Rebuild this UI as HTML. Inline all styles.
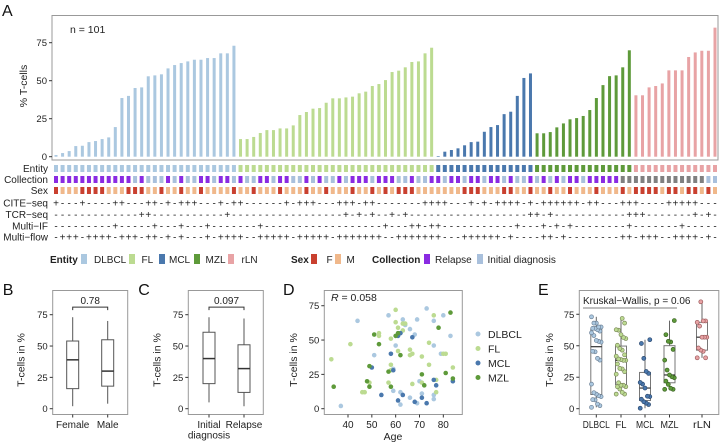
<!DOCTYPE html>
<html><head><meta charset="utf-8"><style>
body{margin:0;background:#fff}
svg{display:block;font-family:"Liberation Sans",Arial,sans-serif}
</style></head><body>
<svg id="fig" width="720" height="443" viewBox="0 0 720 443"></svg>
<script>
// ---------- DATA ----------
const groups = ["DLBCL","FL","MCL","MZL","rLN"];
const dlbclVals = [1.1,2.4,3.7,7,7.2,9.6,10.3,11.6,12.7,19.5,38.6,40,45.2,45.6,52.9,53.5,54.2,58.1,60.3,61.6,62.7,63.8,63.8,64.9,64.9,68,68,73];
const flVals = [11.6,11.6,13,15.6,17.5,17.5,18.6,18.6,20.6,27.4,29.4,31.6,32,35.5,38.4,38.4,39,39.5,41.7,42.8,46.5,47.8,50.4,55.7,56.6,58.8,62.3,62.7,68,71.7];
const mclVals = [0.4,3.3,4.4,5.5,7.5,9.6,9.9,16.4,19.5,20.8,28,29.6,40,51.8,54.8];
const mzlVals = [15.4,15.4,16.2,19.3,21.9,24.6,25.4,26.8,30.7,38.6,47.1,53,53.5,58.8,70];
const rlnVals = [40.4,40.4,45.6,46.5,48.2,56.8,56.8,56.8,65.6,68.6,69.7,69.7,84.9];
const yTicks = [0,25,50,75];
const collectionStr = "PPPPPPPPPPPPIPIIIPIPIIPPIPPIPIIPPIPPIIPIPIIPIPPPIPPPIIPIIPPIPPIPPIPPIPIIPIPIPIPPIPPPPPGGGGGGGGGGGGG";
const sexStr = "FMMMFFFFMMMFFFMMFMMFMMFMMMMFMMFMMMFMMMFMMFMMMFMMFMFMFFFMMMMMMMFFFMMMFFMMFMMFMMFMMMFMMMFMFFFFMFFMFFMF";
const citeStr = "+---+----++---++-+-+++---+-++------+-+++---+++-++-------++++---+-+-++++-+-++++++-++---+++----+++++";
const tcrStr  = "-------------++-----------+-----------------+-+-+--+-+------------------++-+-----------+++-------+-+";
const mifStr  = "---------+-----+---+---+-------+------------------+---++-++-----------+---+-+-+--------+-------+---";
const mflowStr= "-+++-++++-+++-++-+-+---+-++++--+++++-+++++-+++++++--+++++++---++++++-+----++-+--------++-+++--++++-+";
// Panel B/C summary stats [min,q1,median,q3,max]
const sexCats = ["Female","Male"];
const sexStats = [[2,16,39,54,73],[4,18,30,55,70]];
const sexP = "0.78";
const colCats = ["Initial diagnosis","Relapse"];
const colStats = [[5,20,40,61,73],[2,13,32,51,72]];
const colP = "0.097";
// Panel D scatter
const dAges = {
 DLBCL:[37,44,51,57,59,60,62,62,63,64,66,66,68,69,69,70,71,73,76,76,76,76,79,80,83,84,59],
 FL:[33,41,46,47,49,53,53,57,58,58,60,60,61,61,62,63,63,66,66,67,67,71,71,74,74,76,77,77,80,81,84,64,58],
 MCL:[50,54,58,59,61,62,63,67,68,71,73,76,77,84,61],
 MZL:[34,48,49,49,51,53,57,58,60,62,71,72,78,81,83,84,61]};
const dVals = {
 DLBCL:[2,64,39,68,13,46,3,12,65,61,58,8,54,65,4,20,11,73,64,10,7,46,40,68,53,20,29],
 FL:[36,47,12,12,19,55,53,19,32,51,72,63,42,59,55,62,57,43,39,40,18,38,19,48,32,68,12,21,40,40,30,62,28],
 MCL:[30,10,40,28,6,55,10,52,5,8,4,21,17,20,53],
 MZL:[16,20,31,16,54,47,27,16,53,39,25,17,59,26,70,22,55]};
const dXTicks = [40,50,60,70,80];
const dR = "0.058";
// ---------- HELPERS ----------
const NS="http://www.w3.org/2000/svg", svg=document.getElementById('fig');
function el(tag,attrs,parent,txt){const e=document.createElementNS(NS,tag);for(const k in attrs)e.setAttribute(k,attrs[k]);if(txt!==undefined)e.textContent=txt;(parent||svg).appendChild(e);return e;}
const colors={DLBCL:"#abc8e0",FL:"#bcdb91",MCL:"#4a78ad",MZL:"#5e9a3a",rLN:"#e8a3a5"};
const dark={DLBCL:"#6f8398",FL:"#7d8a5c",MCL:"#2e4a70",MZL:"#3d6426",rLN:"#9a5a5c"};
const colColor={P:"#8a2be2",I:"#a9c0dc",G:"#808080"}, sexColor={F:"#c9402f",M:"#f0b88b"};
const T="#222";
function quant(a,p){const s=[...a].sort((x,y)=>x-y);const h=(s.length-1)*p,l=Math.floor(h);return s[l]+(s[Math.min(l+1,s.length-1)]-s[l])*(h-l);}
function label(x,y,t,name){const e=el('text',{x:x,y:y,'font-size':16,fill:'#111'},svg,t);}
function yAxis(g,x0,yf,ticks){ticks.forEach(v=>{const y=yf(v);
 const l=el('line',{x1:x0-3,x2:x0,y1:y,y2:y,stroke:'#333'},g);
 const t=el('text',{x:x0-5,y:y+3.5,'font-size':9.5,'text-anchor':'end',fill:T},g,String(v));});}
function frame(g,x,y,w,h,name){const r=el('rect',{x:x,y:y,width:w,height:h,fill:'none',stroke:'#999','stroke-width':1},g);}
function ytitle(g,x,y,t){const e=el('text',{x:x,y:y,'font-size':10.5,'text-anchor':'middle',fill:T,transform:`rotate(-90 ${x} ${y})`},g,t);}

// ---------- PANEL A ----------
const allVals=[dlbclVals,flVals,mclVals,mzlVals,rlnVals];
const samples=[];allVals.forEach((arr,gi)=>arr.forEach(v=>samples.push({g:groups[gi],v:v})));
const gA=el('g',{});
label(2,16,'A','panel-a-label');
const ax=i=>56+i*(659/(samples.length-1)), ay=v=>156.7-v*1.52;
frame(gA,52,15.5,666,144.5,'panel-a-frame');
yAxis(gA,52,ay,yTicks);
ytitle(gA,27,86,'% T-cells');
{const t=el('text',{x:70,y:33,'font-size':10.5,fill:T},gA,'n = 101');}
samples.forEach((s,i)=>{const b=el('rect',{x:ax(i)-1.5,width:3,y:ay(s.v),height:Math.max(0.5,ay(0)-ay(s.v)),fill:colors[s.g]},gA);
 });
const rows=[["Entity",168.5],["Collection",179.5],["Sex",190.5],["CITE−seq",203],["TCR−seq",214.5],["Multi−IF",226],["Multi−flow",237]];
rows.forEach(r=>{const t=el('text',{x:48,y:r[1]+3.5,'font-size':10,'text-anchor':'end',fill:T},gA,r[0]);});
samples.forEach((s,i)=>{const x=ax(i);
 const tr=[[colors[s.g],168.5,'entity-tile'],[colColor[collectionStr[i]||'I'],179.5,'collection-tile'],[sexColor[sexStr[i]||'M'],190.5,'sex-tile']];
 tr.forEach(q=>{const r=el('rect',{x:x-2,y:q[1]-3.5,width:4,height:7,fill:q[0]},gA);});
 [[citeStr,203],[tcrStr,214.5],[mifStr,226],[mflowStr,237]].forEach(q=>{const c=q[0][i]||'-';
  const t=el('text',{x:x,y:q[1]+3.5,'font-size':10,'text-anchor':'middle',fill:T},gA,c==='+'?'+':'-');});
});
// legend
const lg=el('g',{});
function ltitle(x,t){const e=el('text',{x:x,y:263,'font-size':10,'font-weight':'bold',fill:T},lg,t);}
function lentry(x,c,t,tx){const r=el('rect',{x:x,y:254,width:6,height:10,fill:c},lg);
 const e=el('text',{x:tx,y:263,'font-size':10,fill:T},lg,t);}
ltitle(50,'Entity');
lentry(81,colors.DLBCL,'DLBCL',94);lentry(129,colors.FL,'FL',141.5);lentry(159,colors.MCL,'MCL',169);lentry(194,colors.MZL,'MZL',205.5);lentry(228,colors.rLN,'rLN',241.5);
ltitle(291,'Sex');lentry(311,sexColor.F,'F',326.5);lentry(335,sexColor.M,'M',346.5);
ltitle(372,'Collection');lentry(424,colColor.P,'Relapse',435);lentry(477,colColor.I,'Initial diagnosis',487.5);

// ---------- BOX PANELS B/C ----------
function boxPanel(name,lab,x0,cats,stats,p,xs){
 const g=el('g',{});
 label(x0-50,295,lab,name+'-label');
 const yf=v=>408.7-v*1.2533;
 frame(g,x0,290.5,75,124,name+'-frame');
 yAxis(g,x0,yf,yTicks);ytitle(g,x0-28,360,'T-cells in %');
 cats.forEach((c,i)=>{const x=x0+xs[i],s=stats[i];
  const w=el('line',{x1:x,x2:x,y1:yf(s[0]),y2:yf(s[4]),stroke:'#555'},g);
  const b=el('rect',{x:x-6,width:12,y:yf(s[3]),height:yf(s[1])-yf(s[3]),fill:'#fff',stroke:'#555'},g);
  const m=el('line',{x1:x-6,x2:x+6,y1:yf(s[2]),y2:yf(s[2]),stroke:'#333','stroke-width':1.5},g);
  const tk=el('line',{x1:x,x2:x,y1:414.5,y2:417.5,stroke:'#333'},g);
  const parts=c.split(' ');parts.forEach((pt,j)=>{const t=el('text',{x:x,y:428+j*10.5,'font-size':10,'text-anchor':'middle',fill:T},g,pt);});
 });
 const yb=yf(81);const a=x0+xs[0],b2=x0+xs[1];
 const br=el('path',{d:`M${a},${yb+3}V${yb}H${b2}V${yb+3}`,fill:'none',stroke:'#333'},g);
 const t=el('text',{x:(a+b2)/2,y:yb-3,'font-size':10,'text-anchor':'middle',fill:T},g,p);
}
boxPanel('panel-b','B',52.7,sexCats,sexStats,sexP,[20,55]);
boxPanel('panel-c','C',188.3,colCats,colStats,colP,[20.7,55.7]);

// ---------- PANEL D ----------
{const g=el('g',{});
 label(283,295,'D','panel-d-label');
 const xf=a=>348+(a-40)*2.383, yf=v=>408.7-v*1.373;
 frame(g,324.3,290.5,138,124,'panel-d-frame');
 yAxis(g,324.3,yf,yTicks);ytitle(g,297,360,'T-cells in %');
 dXTicks.forEach(a=>{const tk=el('line',{x1:xf(a),x2:xf(a),y1:414.5,y2:417.5,stroke:'#333'},g);
  const t=el('text',{x:xf(a),y:428,'font-size':10,'text-anchor':'middle',fill:T},g,String(a));});
 {const t=el('text',{x:393,y:440,'font-size':10.5,'text-anchor':'middle',fill:T},g,'Age');}
 {const t=el('text',{x:331,y:301,'font-size':10.5,fill:T},g);
  el('tspan',{'font-style':'italic'},t,'R');el('tspan',{},t,' = '+dR);}
 ["DLBCL","FL","MCL","MZL"].forEach((k,gi)=>{dAges[k].forEach((a,i)=>{const c=el('circle',{cx:xf(a),cy:yf(dVals[k][i]),r:2.3,fill:colors[k]},g);});
  const ly=334+gi*14.5;const c=el('circle',{cx:478,cy:ly,r:2.5,fill:colors[k]},g);
  const t=el('text',{x:488,y:ly+4,'font-size':10.5,fill:T},g,k);});
}

// ---------- PANEL E ----------
{const g=el('g',{});
 label(538,295,'E','panel-e-label');
 const x0=579.3, yf=v=>408.7-v*1.259, xs=[596.3,621,645,669.5,702];
 frame(g,x0,290.5,139.5,124,'panel-e-frame');
 yAxis(g,x0,yf,yTicks);ytitle(g,553,360,'T-cells in %');
 {const l=el('line',{x1:583,x2:677,y1:308,y2:308,stroke:'#aaa','stroke-width':1.5},g);
  const t=el('text',{x:583,y:304,'font-size':10,fill:T},g,'Kruskal−Wallis, p = 0.06');}
 allVals.forEach((arr,gi)=>{const k=groups[gi],x=xs[gi];
  const q1=quant(arr,.25),md=quant(arr,.5),q3=quant(arr,.75),iq=q3-q1;
  const lo=Math.min(...arr.filter(v=>v>=q1-1.5*iq)),hi=Math.max(...arr.filter(v=>v<=q3+1.5*iq));
  const w=el('line',{x1:x,x2:x,y1:yf(lo),y2:yf(hi),stroke:'#666'},g);
  const b=el('rect',{x:x-5.5,width:11,y:yf(q3),height:yf(q1)-yf(q3),fill:'#fff',stroke:'#777'},g);
  const m=el('line',{x1:x-5.5,x2:x+5.5,y1:yf(md),y2:yf(md),stroke:'#333','stroke-width':1.2},g);
  arr.forEach((v,i)=>{const j=((i*7)%9-4)*1.2;const c=el('circle',{cx:x+j,cy:yf(v),r:2,fill:colors[k],stroke:dark[k],'stroke-width':0.7},g);});
  const tk=el('line',{x1:x,x2:x,y1:414.5,y2:417.5,stroke:'#333'},g);
  const t=el('text',{x:x,y:428,'font-size':10,'text-anchor':'middle',fill:T,textLength:k.length>3?27:(k.length>2?18:11),lengthAdjust:'spacingAndGlyphs'},g,k);
 });
}
</script>
</body></html>
